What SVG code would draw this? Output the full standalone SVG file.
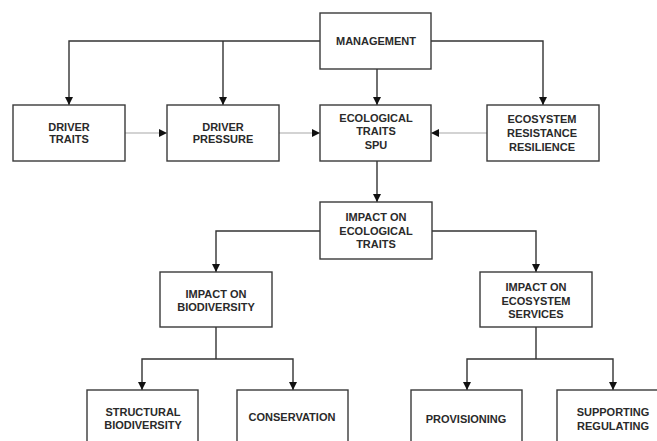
<svg xmlns="http://www.w3.org/2000/svg" width="657" height="441" viewBox="0 0 657 441">
<style>
.box{fill:#fff;stroke:#3a3a3a;stroke-width:1.4}
.t{font-family:"Liberation Sans",Arial,sans-serif;font-weight:bold;font-size:11px;fill:#2a2a2a;text-anchor:middle}
.c{fill:none;stroke:#333;stroke-width:1.4}
.g{fill:none;stroke:#c4c4c4;stroke-width:1.4}
</style>
<defs>
<marker id="ah" viewBox="0 0 10 10" refX="10" refY="5" markerWidth="8" markerHeight="8" markerUnits="userSpaceOnUse" orient="auto">
<path d="M0,0 L10,5 L0,10 Z" fill="#111"/>
</marker>
</defs>
<rect width="657" height="441" fill="#fff"/>
<g id="connectors">
<path class="c" d="M320,41 H69 V105" marker-end="url(#ah)"/>
<path class="c" d="M223,41 V105" marker-end="url(#ah)"/>
<path class="c" d="M377,69 V105" marker-end="url(#ah)"/>
<path class="c" d="M431,41 H543 V105" marker-end="url(#ah)"/>
<path class="g" d="M125,133 H167" marker-end="url(#ah)"/>
<path class="g" d="M279,133 H320" marker-end="url(#ah)"/>
<path class="g" d="M487,133 H431" marker-end="url(#ah)"/>
<path class="c" d="M377,161 V202" marker-end="url(#ah)"/>
<path class="c" d="M320,231 H216 V272" marker-end="url(#ah)"/>
<path class="c" d="M432,231 H536 V272" marker-end="url(#ah)"/>
<path class="c" d="M216,327 V359"/>
<path class="c" d="M216,359 H142 V390" marker-end="url(#ah)"/>
<path class="c" d="M216,359 H293 V390" marker-end="url(#ah)"/>
<path class="c" d="M536,327 V359"/>
<path class="c" d="M536,359 H467 V390" marker-end="url(#ah)"/>
<path class="c" d="M536,359 H613 V390" marker-end="url(#ah)"/>
</g>
<g id="management"><rect class="box" x="320" y="13" width="111" height="56"/><text class="t" x="376" y="45">MANAGEMENT</text></g>
<g id="driver-traits"><rect class="box" x="13" y="105" width="112" height="56"/><text class="t" x="69" y="131">DRIVER</text><text class="t" x="69" y="143">TRAITS</text></g>
<g id="driver-pressure"><rect class="box" x="167" y="105" width="112" height="56"/><text class="t" x="223" y="131">DRIVER</text><text class="t" x="223" y="143">PRESSURE</text></g>
<g id="ecological-traits"><rect class="box" x="320" y="105" width="111" height="56"/><text class="t" x="376" y="122">ECOLOGICAL</text><text class="t" x="376" y="135">TRAITS</text><text class="t" x="376" y="149">SPU</text></g>
<g id="ecosystem-resistance"><rect class="box" x="487" y="105" width="112" height="56"/><text class="t" x="542" y="123">ECOSYSTEM</text><text class="t" x="542" y="137">RESISTANCE</text><text class="t" x="542" y="151">RESILIENCE</text></g>
<g id="impact-ecological"><rect class="box" x="320" y="202" width="112" height="57"/><text class="t" x="376" y="221">IMPACT ON</text><text class="t" x="376" y="235">ECOLOGICAL</text><text class="t" x="376" y="248">TRAITS</text></g>
<g id="impact-biodiversity"><rect class="box" x="160" y="272" width="112" height="55"/><text class="t" x="216" y="298">IMPACT ON</text><text class="t" x="216" y="311">BIODIVERSITY</text></g>
<g id="impact-services"><rect class="box" x="480" y="272" width="112" height="55"/><text class="t" x="536" y="291">IMPACT ON</text><text class="t" x="536" y="305">ECOSYSTEM</text><text class="t" x="536" y="318">SERVICES</text></g>
<g id="structural"><rect class="box" x="87" y="390" width="111" height="60"/><text class="t" x="143" y="416">STRUCTURAL</text><text class="t" x="143" y="429">BIODIVERSITY</text></g>
<g id="conservation"><rect class="box" x="237" y="390" width="111" height="60"/><text class="t" x="292" y="421">CONSERVATION</text></g>
<g id="provisioning"><rect class="box" x="411" y="390" width="111" height="60"/><text class="t" x="466" y="423">PROVISIONING</text></g>
<g id="supporting"><rect class="box" x="557" y="390" width="112" height="60"/><text class="t" x="613" y="416">SUPPORTING</text><text class="t" x="613" y="430">REGULATING</text></g>
</svg>
